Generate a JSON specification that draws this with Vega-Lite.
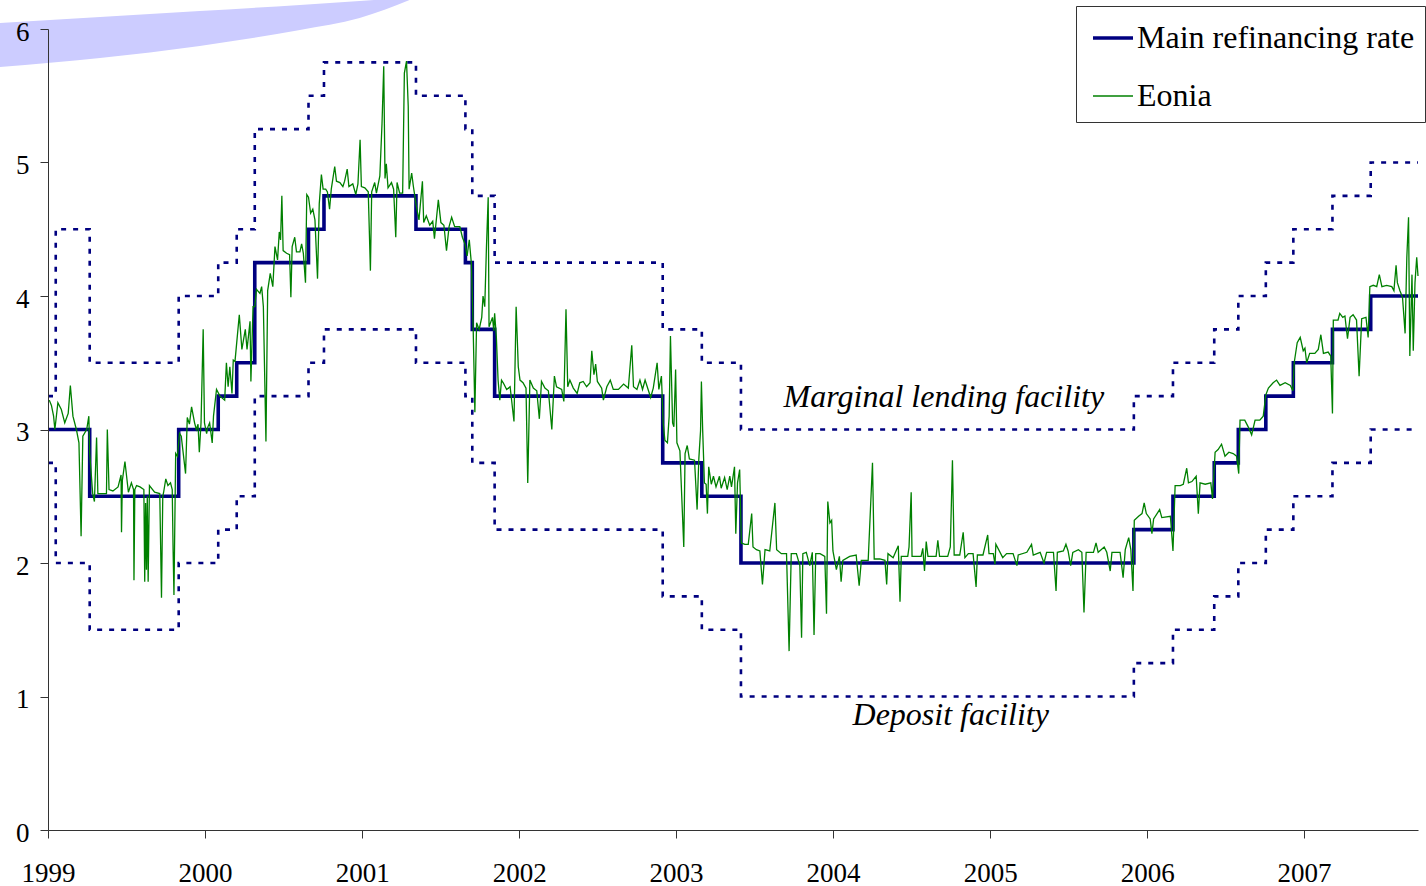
{
  "$schema": "https://vega.github.io/schema/vega-lite/v6.json",
  "width": 1370,
  "height": 801,
  "autosize": {"type": "none"},
  "padding": {"left": 48, "top": 29, "right": 8, "bottom": 56},
  "background": "white",
  "config": {
    "view": {"stroke": null},
    "font": "Liberation Serif",
    "axis": {"grid": false, "domainColor": "#333333", "tickColor": "#333333", "labelFont": "Liberation Serif", "labelFontSize": 27, "labelColor": "black", "tickSize": 8, "title": null},
    "legend": {
      "orient": "none", "legendX": 1028, "legendY": -23,
      "symbolType": "stroke", "symbolSize": 1600, "symbolOffset": 5,
      "labelFont": "Liberation Serif", "labelFontSize": 32, "labelColor": "black", "labelLimit": 500, "labelOffset": 2,
      "strokeColor": "#333333", "fillColor": "white", "padding": 10, "rowPadding": 21
    }
  },
  "datasets": {
    "swoosh": [
      {"date": "1998-09-11", "lo": 5.715, "hi": 6.045},
      {"date": "1999-05-02", "lo": 5.783, "hi": 6.09},
      {"date": "1999-12-20", "lo": 5.873, "hi": 6.135},
      {"date": "2000-08-09", "lo": 5.993, "hi": 6.18},
      {"date": "2000-12-26", "lo": 6.082, "hi": 6.21},
      {"date": "2001-04-21", "lo": 6.217, "hi": 6.235}
    ],
    "policy": [
      {"date": "1999-01-01", "series": "MRO", "rate": 3.0},
      {"date": "1999-04-08", "series": "MRO", "rate": 2.5},
      {"date": "1999-11-01", "series": "MRO", "rate": 3.0},
      {"date": "2000-02-01", "series": "MRO", "rate": 3.25},
      {"date": "2000-03-15", "series": "MRO", "rate": 3.5},
      {"date": "2000-04-26", "series": "MRO", "rate": 4.25},
      {"date": "2000-08-29", "series": "MRO", "rate": 4.5},
      {"date": "2000-10-04", "series": "MRO", "rate": 4.75},
      {"date": "2001-05-06", "series": "MRO", "rate": 4.5},
      {"date": "2001-08-29", "series": "MRO", "rate": 4.25},
      {"date": "2001-09-14", "series": "MRO", "rate": 3.75},
      {"date": "2001-11-05", "series": "MRO", "rate": 3.25},
      {"date": "2002-12-01", "series": "MRO", "rate": 2.75},
      {"date": "2003-03-02", "series": "MRO", "rate": 2.5},
      {"date": "2003-06-01", "series": "MRO", "rate": 2.0},
      {"date": "2005-12-01", "series": "MRO", "rate": 2.25},
      {"date": "2006-03-02", "series": "MRO", "rate": 2.5},
      {"date": "2006-06-06", "series": "MRO", "rate": 2.75},
      {"date": "2006-08-01", "series": "MRO", "rate": 3.0},
      {"date": "2006-10-04", "series": "MRO", "rate": 3.25},
      {"date": "2006-12-07", "series": "MRO", "rate": 3.5},
      {"date": "2007-03-08", "series": "MRO", "rate": 3.75},
      {"date": "2007-06-05", "series": "MRO", "rate": 4.0},
      {"date": "2007-09-23", "series": "MRO", "rate": 4.0},
      {"date": "1999-01-01", "series": "MLF", "rate": 3.25},
      {"date": "1999-01-19", "series": "MLF", "rate": 4.5},
      {"date": "1999-04-08", "series": "MLF", "rate": 3.5},
      {"date": "1999-11-01", "series": "MLF", "rate": 4.0},
      {"date": "2000-02-01", "series": "MLF", "rate": 4.25},
      {"date": "2000-03-15", "series": "MLF", "rate": 4.5},
      {"date": "2000-04-26", "series": "MLF", "rate": 5.25},
      {"date": "2000-08-29", "series": "MLF", "rate": 5.5},
      {"date": "2000-10-04", "series": "MLF", "rate": 5.75},
      {"date": "2001-05-06", "series": "MLF", "rate": 5.5},
      {"date": "2001-08-29", "series": "MLF", "rate": 5.25},
      {"date": "2001-09-14", "series": "MLF", "rate": 4.75},
      {"date": "2001-11-05", "series": "MLF", "rate": 4.25},
      {"date": "2002-12-01", "series": "MLF", "rate": 3.75},
      {"date": "2003-03-02", "series": "MLF", "rate": 3.5},
      {"date": "2003-06-01", "series": "MLF", "rate": 3.0},
      {"date": "2005-12-01", "series": "MLF", "rate": 3.25},
      {"date": "2006-03-02", "series": "MLF", "rate": 3.5},
      {"date": "2006-06-06", "series": "MLF", "rate": 3.75},
      {"date": "2006-08-01", "series": "MLF", "rate": 4.0},
      {"date": "2006-10-04", "series": "MLF", "rate": 4.25},
      {"date": "2006-12-07", "series": "MLF", "rate": 4.5},
      {"date": "2007-03-08", "series": "MLF", "rate": 4.75},
      {"date": "2007-06-05", "series": "MLF", "rate": 5.0},
      {"date": "2007-09-23", "series": "MLF", "rate": 5.0},
      {"date": "1999-01-01", "series": "DF", "rate": 2.75},
      {"date": "1999-01-19", "series": "DF", "rate": 2.0},
      {"date": "1999-04-08", "series": "DF", "rate": 1.5},
      {"date": "1999-11-01", "series": "DF", "rate": 2.0},
      {"date": "2000-02-01", "series": "DF", "rate": 2.25},
      {"date": "2000-03-15", "series": "DF", "rate": 2.5},
      {"date": "2000-04-26", "series": "DF", "rate": 3.25},
      {"date": "2000-08-29", "series": "DF", "rate": 3.5},
      {"date": "2000-10-04", "series": "DF", "rate": 3.75},
      {"date": "2001-05-06", "series": "DF", "rate": 3.5},
      {"date": "2001-08-29", "series": "DF", "rate": 3.25},
      {"date": "2001-09-14", "series": "DF", "rate": 2.75},
      {"date": "2001-11-05", "series": "DF", "rate": 2.25},
      {"date": "2002-12-01", "series": "DF", "rate": 1.75},
      {"date": "2003-03-02", "series": "DF", "rate": 1.5},
      {"date": "2003-06-01", "series": "DF", "rate": 1.0},
      {"date": "2005-12-01", "series": "DF", "rate": 1.25},
      {"date": "2006-03-02", "series": "DF", "rate": 1.5},
      {"date": "2006-06-06", "series": "DF", "rate": 1.75},
      {"date": "2006-08-01", "series": "DF", "rate": 2.0},
      {"date": "2006-10-04", "series": "DF", "rate": 2.25},
      {"date": "2006-12-07", "series": "DF", "rate": 2.5},
      {"date": "2007-03-08", "series": "DF", "rate": 2.75},
      {"date": "2007-06-05", "series": "DF", "rate": 3.0},
      {"date": "2007-09-23", "series": "DF", "rate": 3.0}
    ],
    "eonia": [
      {"date": "1999-01-04", "rate": 3.22}, {"date": "1999-01-09", "rate": 3.18}, {"date": "1999-01-14", "rate": 3.10}, {"date": "1999-01-17", "rate": 3.00},
      {"date": "1999-01-24", "rate": 3.20}, {"date": "1999-02-01", "rate": 3.15}, {"date": "1999-02-09", "rate": 3.05}, {"date": "1999-02-17", "rate": 3.12},
      {"date": "1999-02-22", "rate": 3.33}, {"date": "1999-02-28", "rate": 3.10}, {"date": "1999-03-08", "rate": 3.00}, {"date": "1999-03-14", "rate": 2.90},
      {"date": "1999-03-19", "rate": 2.20}, {"date": "1999-03-23", "rate": 2.95}, {"date": "1999-04-01", "rate": 3.00}, {"date": "1999-04-06", "rate": 3.10},
      {"date": "1999-04-08", "rate": 2.82}, {"date": "1999-04-15", "rate": 2.52}, {"date": "1999-04-19", "rate": 2.46}, {"date": "1999-04-24", "rate": 2.94},
      {"date": "1999-04-27", "rate": 2.52}, {"date": "1999-05-17", "rate": 2.52}, {"date": "1999-05-19", "rate": 3.00}, {"date": "1999-05-23", "rate": 2.55},
      {"date": "1999-06-01", "rate": 2.54}, {"date": "1999-06-13", "rate": 2.57}, {"date": "1999-06-20", "rate": 2.66}, {"date": "1999-06-21", "rate": 2.23},
      {"date": "1999-06-23", "rate": 2.62}, {"date": "1999-06-29", "rate": 2.76}, {"date": "1999-07-07", "rate": 2.53}, {"date": "1999-07-14", "rate": 2.60},
      {"date": "1999-07-19", "rate": 2.55}, {"date": "1999-07-20", "rate": 1.87}, {"date": "1999-07-22", "rate": 2.55}, {"date": "1999-07-26", "rate": 2.58},
      {"date": "1999-08-03", "rate": 2.57}, {"date": "1999-08-12", "rate": 2.55}, {"date": "1999-08-14", "rate": 1.86}, {"date": "1999-08-16", "rate": 2.45},
      {"date": "1999-08-18", "rate": 1.95}, {"date": "1999-08-20", "rate": 2.50}, {"date": "1999-08-22", "rate": 1.86}, {"date": "1999-08-25", "rate": 2.58},
      {"date": "1999-09-06", "rate": 2.53}, {"date": "1999-09-18", "rate": 2.52}, {"date": "1999-09-22", "rate": 1.74}, {"date": "1999-09-25", "rate": 2.50},
      {"date": "1999-09-27", "rate": 2.53}, {"date": "1999-10-02", "rate": 2.63}, {"date": "1999-10-07", "rate": 2.58}, {"date": "1999-10-13", "rate": 2.60},
      {"date": "1999-10-17", "rate": 2.55}, {"date": "1999-10-19", "rate": 2.10}, {"date": "1999-10-21", "rate": 1.76}, {"date": "1999-10-25", "rate": 2.82},
      {"date": "1999-10-29", "rate": 2.80}, {"date": "1999-11-03", "rate": 2.97}, {"date": "1999-11-07", "rate": 2.95}, {"date": "1999-11-17", "rate": 2.67},
      {"date": "1999-11-21", "rate": 3.09}, {"date": "1999-11-26", "rate": 3.04}, {"date": "1999-12-01", "rate": 3.17}, {"date": "1999-12-08", "rate": 3.05},
      {"date": "1999-12-12", "rate": 3.00}, {"date": "1999-12-16", "rate": 3.04}, {"date": "1999-12-19", "rate": 2.83}, {"date": "1999-12-23", "rate": 3.05},
      {"date": "1999-12-28", "rate": 3.75}, {"date": "1999-12-31", "rate": 3.05}, {"date": "2000-01-05", "rate": 2.97}, {"date": "2000-01-08", "rate": 3.02},
      {"date": "2000-01-12", "rate": 3.05}, {"date": "2000-01-18", "rate": 2.90}, {"date": "2000-01-21", "rate": 3.10}, {"date": "2000-01-28", "rate": 3.30},
      {"date": "2000-02-05", "rate": 3.25}, {"date": "2000-02-16", "rate": 3.22}, {"date": "2000-02-20", "rate": 3.50}, {"date": "2000-02-24", "rate": 3.32},
      {"date": "2000-02-28", "rate": 3.47}, {"date": "2000-03-04", "rate": 3.27}, {"date": "2000-03-07", "rate": 3.52}, {"date": "2000-03-11", "rate": 3.51},
      {"date": "2000-03-21", "rate": 3.86}, {"date": "2000-03-27", "rate": 3.60}, {"date": "2000-04-04", "rate": 3.75}, {"date": "2000-04-08", "rate": 3.60},
      {"date": "2000-04-15", "rate": 3.81}, {"date": "2000-04-17", "rate": 3.36}, {"date": "2000-04-22", "rate": 3.92}, {"date": "2000-04-26", "rate": 3.92},
      {"date": "2000-04-30", "rate": 4.05}, {"date": "2000-05-08", "rate": 4.02}, {"date": "2000-05-12", "rate": 4.07}, {"date": "2000-05-16", "rate": 3.92},
      {"date": "2000-05-22", "rate": 2.91}, {"date": "2000-05-26", "rate": 4.04}, {"date": "2000-06-01", "rate": 4.17}, {"date": "2000-06-07", "rate": 4.07},
      {"date": "2000-06-12", "rate": 4.37}, {"date": "2000-06-18", "rate": 4.27}, {"date": "2000-06-22", "rate": 4.48}, {"date": "2000-06-25", "rate": 4.42},
      {"date": "2000-06-28", "rate": 4.75}, {"date": "2000-07-01", "rate": 4.34}, {"date": "2000-07-09", "rate": 4.32}, {"date": "2000-07-16", "rate": 4.31},
      {"date": "2000-07-19", "rate": 3.99}, {"date": "2000-07-22", "rate": 4.37}, {"date": "2000-07-28", "rate": 4.44}, {"date": "2000-08-01", "rate": 4.33},
      {"date": "2000-08-09", "rate": 4.33}, {"date": "2000-08-13", "rate": 4.39}, {"date": "2000-08-17", "rate": 4.32}, {"date": "2000-08-22", "rate": 4.10},
      {"date": "2000-08-25", "rate": 4.76}, {"date": "2000-08-29", "rate": 4.74}, {"date": "2000-09-03", "rate": 4.62}, {"date": "2000-09-08", "rate": 4.65},
      {"date": "2000-09-13", "rate": 4.57}, {"date": "2000-09-19", "rate": 4.13}, {"date": "2000-09-23", "rate": 4.69}, {"date": "2000-09-28", "rate": 4.91},
      {"date": "2000-10-02", "rate": 4.80}, {"date": "2000-10-08", "rate": 4.80}, {"date": "2000-10-12", "rate": 4.78}, {"date": "2000-10-17", "rate": 4.65},
      {"date": "2000-10-21", "rate": 4.80}, {"date": "2000-10-29", "rate": 4.97}, {"date": "2000-11-02", "rate": 4.86}, {"date": "2000-11-10", "rate": 4.85},
      {"date": "2000-11-17", "rate": 4.82}, {"date": "2000-11-21", "rate": 4.86}, {"date": "2000-11-27", "rate": 4.95}, {"date": "2000-12-01", "rate": 4.82},
      {"date": "2000-12-10", "rate": 4.84}, {"date": "2000-12-17", "rate": 4.76}, {"date": "2000-12-22", "rate": 4.84}, {"date": "2000-12-27", "rate": 5.17},
      {"date": "2000-12-30", "rate": 4.82}, {"date": "2001-01-07", "rate": 4.81}, {"date": "2001-01-15", "rate": 4.78}, {"date": "2001-01-20", "rate": 4.19},
      {"date": "2001-01-23", "rate": 4.78}, {"date": "2001-01-30", "rate": 4.85}, {"date": "2001-02-03", "rate": 4.77}, {"date": "2001-02-11", "rate": 4.90},
      {"date": "2001-02-16", "rate": 5.29}, {"date": "2001-02-20", "rate": 5.72}, {"date": "2001-02-23", "rate": 4.88}, {"date": "2001-02-26", "rate": 4.99},
      {"date": "2001-03-02", "rate": 4.81}, {"date": "2001-03-10", "rate": 4.85}, {"date": "2001-03-15", "rate": 4.80}, {"date": "2001-03-20", "rate": 4.44},
      {"date": "2001-03-23", "rate": 4.85}, {"date": "2001-03-29", "rate": 4.77}, {"date": "2001-04-05", "rate": 4.77}, {"date": "2001-04-09", "rate": 5.67},
      {"date": "2001-04-14", "rate": 5.76}, {"date": "2001-04-18", "rate": 5.42}, {"date": "2001-04-20", "rate": 4.80}, {"date": "2001-04-26", "rate": 4.92},
      {"date": "2001-04-30", "rate": 4.82}, {"date": "2001-05-07", "rate": 4.67}, {"date": "2001-05-13", "rate": 4.57}, {"date": "2001-05-21", "rate": 4.86},
      {"date": "2001-05-24", "rate": 4.55}, {"date": "2001-05-30", "rate": 4.60}, {"date": "2001-06-07", "rate": 4.53}, {"date": "2001-06-14", "rate": 4.56},
      {"date": "2001-06-18", "rate": 4.43}, {"date": "2001-06-22", "rate": 4.56}, {"date": "2001-06-27", "rate": 4.72}, {"date": "2001-07-03", "rate": 4.55},
      {"date": "2001-07-10", "rate": 4.53}, {"date": "2001-07-16", "rate": 4.34}, {"date": "2001-07-22", "rate": 4.52}, {"date": "2001-07-28", "rate": 4.59},
      {"date": "2001-08-04", "rate": 4.52}, {"date": "2001-08-16", "rate": 4.52}, {"date": "2001-08-22", "rate": 4.44}, {"date": "2001-08-28", "rate": 4.39},
      {"date": "2001-09-02", "rate": 4.30}, {"date": "2001-09-07", "rate": 4.42}, {"date": "2001-09-12", "rate": 4.24}, {"date": "2001-09-16", "rate": 3.77},
      {"date": "2001-09-20", "rate": 3.13}, {"date": "2001-09-24", "rate": 3.80}, {"date": "2001-09-30", "rate": 3.75}, {"date": "2001-10-06", "rate": 3.84},
      {"date": "2001-10-09", "rate": 4.00}, {"date": "2001-10-13", "rate": 3.92}, {"date": "2001-10-17", "rate": 4.37}, {"date": "2001-10-21", "rate": 4.74},
      {"date": "2001-10-23", "rate": 3.77}, {"date": "2001-10-31", "rate": 3.84}, {"date": "2001-11-03", "rate": 3.74}, {"date": "2001-11-05", "rate": 3.87},
      {"date": "2001-11-09", "rate": 3.69}, {"date": "2001-11-13", "rate": 3.37}, {"date": "2001-11-17", "rate": 3.22}, {"date": "2001-11-21", "rate": 3.37},
      {"date": "2001-11-25", "rate": 3.35}, {"date": "2001-12-03", "rate": 3.30}, {"date": "2001-12-11", "rate": 3.32}, {"date": "2001-12-20", "rate": 3.06},
      {"date": "2001-12-25", "rate": 3.92}, {"date": "2001-12-30", "rate": 3.47}, {"date": "2002-01-03", "rate": 3.37}, {"date": "2002-01-10", "rate": 3.35},
      {"date": "2002-01-17", "rate": 3.31}, {"date": "2002-01-21", "rate": 2.60}, {"date": "2002-01-26", "rate": 3.37}, {"date": "2002-02-03", "rate": 3.31},
      {"date": "2002-02-11", "rate": 3.29}, {"date": "2002-02-17", "rate": 3.08}, {"date": "2002-02-22", "rate": 3.36}, {"date": "2002-03-02", "rate": 3.31},
      {"date": "2002-03-10", "rate": 3.29}, {"date": "2002-03-18", "rate": 3.00}, {"date": "2002-03-24", "rate": 3.40}, {"date": "2002-03-29", "rate": 3.32},
      {"date": "2002-04-10", "rate": 3.30}, {"date": "2002-04-15", "rate": 3.21}, {"date": "2002-04-20", "rate": 3.90}, {"date": "2002-04-24", "rate": 3.32},
      {"date": "2002-04-29", "rate": 3.37}, {"date": "2002-05-07", "rate": 3.31}, {"date": "2002-05-16", "rate": 3.27}, {"date": "2002-05-22", "rate": 3.35},
      {"date": "2002-05-30", "rate": 3.36}, {"date": "2002-06-07", "rate": 3.32}, {"date": "2002-06-15", "rate": 3.35}, {"date": "2002-06-19", "rate": 3.59},
      {"date": "2002-06-24", "rate": 3.41}, {"date": "2002-06-28", "rate": 3.49}, {"date": "2002-07-02", "rate": 3.36}, {"date": "2002-07-12", "rate": 3.31},
      {"date": "2002-07-16", "rate": 3.22}, {"date": "2002-07-24", "rate": 3.32}, {"date": "2002-08-01", "rate": 3.37}, {"date": "2002-08-08", "rate": 3.30},
      {"date": "2002-08-20", "rate": 3.30}, {"date": "2002-09-01", "rate": 3.34}, {"date": "2002-09-12", "rate": 3.31}, {"date": "2002-09-20", "rate": 3.63},
      {"date": "2002-09-24", "rate": 3.32}, {"date": "2002-10-02", "rate": 3.30}, {"date": "2002-10-09", "rate": 3.37}, {"date": "2002-10-15", "rate": 3.30},
      {"date": "2002-10-21", "rate": 3.37}, {"date": "2002-10-28", "rate": 3.30}, {"date": "2002-11-03", "rate": 3.24}, {"date": "2002-11-09", "rate": 3.31},
      {"date": "2002-11-18", "rate": 3.50}, {"date": "2002-11-22", "rate": 3.30}, {"date": "2002-11-28", "rate": 3.40}, {"date": "2002-12-02", "rate": 3.05},
      {"date": "2002-12-06", "rate": 2.92}, {"date": "2002-12-12", "rate": 2.90}, {"date": "2002-12-16", "rate": 3.10}, {"date": "2002-12-19", "rate": 3.70},
      {"date": "2002-12-24", "rate": 3.05}, {"date": "2002-12-27", "rate": 3.02}, {"date": "2002-12-31", "rate": 3.45}, {"date": "2003-01-03", "rate": 2.90},
      {"date": "2003-01-10", "rate": 2.84}, {"date": "2003-01-19", "rate": 2.12}, {"date": "2003-01-22", "rate": 2.82}, {"date": "2003-01-27", "rate": 2.88},
      {"date": "2003-02-01", "rate": 2.78}, {"date": "2003-02-13", "rate": 2.77}, {"date": "2003-02-19", "rate": 2.40}, {"date": "2003-02-23", "rate": 2.78},
      {"date": "2003-02-27", "rate": 2.99}, {"date": "2003-03-01", "rate": 3.36}, {"date": "2003-03-04", "rate": 2.99}, {"date": "2003-03-08", "rate": 2.60},
      {"date": "2003-03-12", "rate": 2.59}, {"date": "2003-03-15", "rate": 2.37}, {"date": "2003-03-18", "rate": 2.72}, {"date": "2003-03-24", "rate": 2.59},
      {"date": "2003-03-29", "rate": 2.65}, {"date": "2003-04-04", "rate": 2.57}, {"date": "2003-04-12", "rate": 2.65}, {"date": "2003-04-16", "rate": 2.56},
      {"date": "2003-04-24", "rate": 2.64}, {"date": "2003-04-30", "rate": 2.55}, {"date": "2003-05-06", "rate": 2.65}, {"date": "2003-05-10", "rate": 2.57},
      {"date": "2003-05-17", "rate": 2.72}, {"date": "2003-05-20", "rate": 2.22}, {"date": "2003-05-24", "rate": 2.60}, {"date": "2003-05-29", "rate": 2.70},
      {"date": "2003-06-02", "rate": 2.15}, {"date": "2003-06-10", "rate": 2.14}, {"date": "2003-06-18", "rate": 2.14}, {"date": "2003-06-26", "rate": 2.37},
      {"date": "2003-06-29", "rate": 2.12}, {"date": "2003-07-07", "rate": 2.10}, {"date": "2003-07-15", "rate": 2.09}, {"date": "2003-07-21", "rate": 1.84},
      {"date": "2003-07-27", "rate": 2.10}, {"date": "2003-08-07", "rate": 2.09}, {"date": "2003-08-19", "rate": 2.45}, {"date": "2003-08-23", "rate": 2.10},
      {"date": "2003-09-03", "rate": 2.07}, {"date": "2003-09-15", "rate": 2.07}, {"date": "2003-09-21", "rate": 1.34}, {"date": "2003-09-26", "rate": 2.07},
      {"date": "2003-10-08", "rate": 2.07}, {"date": "2003-10-16", "rate": 1.98}, {"date": "2003-10-20", "rate": 1.44}, {"date": "2003-10-23", "rate": 2.07},
      {"date": "2003-10-31", "rate": 2.08}, {"date": "2003-11-08", "rate": 1.98}, {"date": "2003-11-14", "rate": 2.08}, {"date": "2003-11-18", "rate": 1.46},
      {"date": "2003-11-22", "rate": 2.07}, {"date": "2003-12-02", "rate": 2.07}, {"date": "2003-12-13", "rate": 2.05}, {"date": "2003-12-17", "rate": 1.62},
      {"date": "2003-12-20", "rate": 2.46}, {"date": "2003-12-25", "rate": 2.30}, {"date": "2003-12-29", "rate": 2.32}, {"date": "2004-01-01", "rate": 2.09},
      {"date": "2004-01-09", "rate": 1.95}, {"date": "2004-01-16", "rate": 2.05}, {"date": "2004-01-20", "rate": 1.86}, {"date": "2004-01-24", "rate": 2.02},
      {"date": "2004-02-09", "rate": 2.05}, {"date": "2004-02-24", "rate": 2.06}, {"date": "2004-03-02", "rate": 1.83}, {"date": "2004-03-07", "rate": 2.02},
      {"date": "2004-03-23", "rate": 2.02}, {"date": "2004-04-02", "rate": 2.75}, {"date": "2004-04-06", "rate": 2.03}, {"date": "2004-04-19", "rate": 2.03},
      {"date": "2004-05-01", "rate": 2.02}, {"date": "2004-05-05", "rate": 1.84}, {"date": "2004-05-08", "rate": 2.07}, {"date": "2004-05-20", "rate": 2.04},
      {"date": "2004-05-28", "rate": 2.10}, {"date": "2004-06-01", "rate": 2.13}, {"date": "2004-06-05", "rate": 1.71}, {"date": "2004-06-08", "rate": 2.05},
      {"date": "2004-06-23", "rate": 2.05}, {"date": "2004-06-26", "rate": 2.12}, {"date": "2004-07-01", "rate": 2.53}, {"date": "2004-07-03", "rate": 2.05},
      {"date": "2004-07-24", "rate": 2.05}, {"date": "2004-07-28", "rate": 2.11}, {"date": "2004-08-01", "rate": 1.94}, {"date": "2004-08-05", "rate": 2.16},
      {"date": "2004-08-09", "rate": 2.05}, {"date": "2004-08-28", "rate": 2.05}, {"date": "2004-09-01", "rate": 2.17}, {"date": "2004-09-05", "rate": 2.05},
      {"date": "2004-09-24", "rate": 2.05}, {"date": "2004-09-30", "rate": 2.12}, {"date": "2004-10-05", "rate": 2.77}, {"date": "2004-10-09", "rate": 2.06},
      {"date": "2004-10-22", "rate": 2.06}, {"date": "2004-10-30", "rate": 2.23}, {"date": "2004-11-03", "rate": 2.04}, {"date": "2004-11-11", "rate": 2.07},
      {"date": "2004-11-22", "rate": 2.07}, {"date": "2004-11-29", "rate": 1.82}, {"date": "2004-12-02", "rate": 2.06}, {"date": "2004-12-15", "rate": 2.06},
      {"date": "2004-12-26", "rate": 2.21}, {"date": "2004-12-29", "rate": 2.07}, {"date": "2005-01-08", "rate": 2.07}, {"date": "2005-01-12", "rate": 1.99},
      {"date": "2005-01-14", "rate": 2.14}, {"date": "2005-01-30", "rate": 2.04}, {"date": "2005-02-08", "rate": 2.07}, {"date": "2005-02-23", "rate": 2.07},
      {"date": "2005-03-04", "rate": 1.98}, {"date": "2005-03-07", "rate": 2.06}, {"date": "2005-03-27", "rate": 2.08}, {"date": "2005-04-07", "rate": 2.14},
      {"date": "2005-04-11", "rate": 2.06}, {"date": "2005-04-27", "rate": 2.08}, {"date": "2005-05-06", "rate": 2.00}, {"date": "2005-05-12", "rate": 2.08},
      {"date": "2005-05-28", "rate": 2.08}, {"date": "2005-06-03", "rate": 1.79}, {"date": "2005-06-06", "rate": 2.08}, {"date": "2005-06-20", "rate": 2.09},
      {"date": "2005-06-26", "rate": 2.14}, {"date": "2005-07-01", "rate": 2.09}, {"date": "2005-07-07", "rate": 1.98}, {"date": "2005-07-12", "rate": 2.08},
      {"date": "2005-07-25", "rate": 2.10}, {"date": "2005-08-02", "rate": 2.08}, {"date": "2005-08-07", "rate": 1.63}, {"date": "2005-08-12", "rate": 2.08},
      {"date": "2005-08-29", "rate": 2.08}, {"date": "2005-09-04", "rate": 2.15}, {"date": "2005-09-09", "rate": 2.08}, {"date": "2005-09-23", "rate": 2.12},
      {"date": "2005-09-29", "rate": 2.08}, {"date": "2005-10-07", "rate": 1.94}, {"date": "2005-10-11", "rate": 2.08}, {"date": "2005-10-30", "rate": 2.08},
      {"date": "2005-11-06", "rate": 1.89}, {"date": "2005-11-11", "rate": 2.10}, {"date": "2005-11-19", "rate": 2.19}, {"date": "2005-11-24", "rate": 2.10},
      {"date": "2005-11-29", "rate": 1.79}, {"date": "2005-12-02", "rate": 2.32}, {"date": "2005-12-12", "rate": 2.35}, {"date": "2005-12-20", "rate": 2.37},
      {"date": "2005-12-25", "rate": 2.45}, {"date": "2005-12-30", "rate": 2.37}, {"date": "2006-01-08", "rate": 2.33}, {"date": "2006-01-12", "rate": 2.22},
      {"date": "2006-01-16", "rate": 2.33}, {"date": "2006-01-30", "rate": 2.40}, {"date": "2006-02-04", "rate": 2.34}, {"date": "2006-02-24", "rate": 2.35},
      {"date": "2006-03-02", "rate": 2.09}, {"date": "2006-03-07", "rate": 2.58}, {"date": "2006-03-19", "rate": 2.58}, {"date": "2006-03-26", "rate": 2.59},
      {"date": "2006-04-03", "rate": 2.71}, {"date": "2006-04-07", "rate": 2.60}, {"date": "2006-04-15", "rate": 2.61}, {"date": "2006-04-25", "rate": 2.65},
      {"date": "2006-04-30", "rate": 2.37}, {"date": "2006-05-04", "rate": 2.60}, {"date": "2006-05-16", "rate": 2.59}, {"date": "2006-05-29", "rate": 2.60},
      {"date": "2006-06-02", "rate": 2.48}, {"date": "2006-06-08", "rate": 2.83}, {"date": "2006-06-15", "rate": 2.85}, {"date": "2006-06-23", "rate": 2.89},
      {"date": "2006-07-01", "rate": 2.80}, {"date": "2006-07-10", "rate": 2.83}, {"date": "2006-07-20", "rate": 2.82}, {"date": "2006-07-28", "rate": 2.80},
      {"date": "2006-08-02", "rate": 2.67}, {"date": "2006-08-05", "rate": 3.07}, {"date": "2006-08-16", "rate": 3.07}, {"date": "2006-08-24", "rate": 3.02},
      {"date": "2006-09-01", "rate": 2.96}, {"date": "2006-09-09", "rate": 3.07}, {"date": "2006-09-20", "rate": 3.07}, {"date": "2006-09-28", "rate": 3.10},
      {"date": "2006-10-04", "rate": 3.26}, {"date": "2006-10-10", "rate": 3.31}, {"date": "2006-10-21", "rate": 3.35}, {"date": "2006-10-29", "rate": 3.37},
      {"date": "2006-11-06", "rate": 3.33}, {"date": "2006-11-18", "rate": 3.35}, {"date": "2006-11-30", "rate": 3.33}, {"date": "2006-12-06", "rate": 3.29},
      {"date": "2006-12-09", "rate": 3.50}, {"date": "2006-12-16", "rate": 3.65}, {"date": "2006-12-23", "rate": 3.69}, {"date": "2006-12-30", "rate": 3.59},
      {"date": "2007-01-03", "rate": 3.61}, {"date": "2007-01-07", "rate": 3.50}, {"date": "2007-01-14", "rate": 3.57}, {"date": "2007-01-26", "rate": 3.57},
      {"date": "2007-02-03", "rate": 3.60}, {"date": "2007-02-09", "rate": 3.71}, {"date": "2007-02-15", "rate": 3.57}, {"date": "2007-02-26", "rate": 3.58},
      {"date": "2007-03-04", "rate": 3.55}, {"date": "2007-03-08", "rate": 3.12}, {"date": "2007-03-10", "rate": 3.82}, {"date": "2007-03-21", "rate": 3.82},
      {"date": "2007-03-25", "rate": 3.87}, {"date": "2007-04-01", "rate": 3.84}, {"date": "2007-04-06", "rate": 3.85}, {"date": "2007-04-12", "rate": 3.68},
      {"date": "2007-04-18", "rate": 3.84}, {"date": "2007-04-25", "rate": 3.86}, {"date": "2007-05-03", "rate": 3.82}, {"date": "2007-05-09", "rate": 3.40},
      {"date": "2007-05-15", "rate": 3.83}, {"date": "2007-05-25", "rate": 3.84}, {"date": "2007-05-30", "rate": 3.69}, {"date": "2007-06-03", "rate": 4.07},
      {"date": "2007-06-11", "rate": 4.08}, {"date": "2007-06-19", "rate": 4.07}, {"date": "2007-06-25", "rate": 4.16}, {"date": "2007-07-01", "rate": 4.07},
      {"date": "2007-07-12", "rate": 4.08}, {"date": "2007-07-24", "rate": 4.07}, {"date": "2007-07-29", "rate": 4.04}, {"date": "2007-08-03", "rate": 4.23},
      {"date": "2007-08-06", "rate": 4.10}, {"date": "2007-08-12", "rate": 4.04}, {"date": "2007-08-18", "rate": 3.99}, {"date": "2007-08-24", "rate": 3.72},
      {"date": "2007-08-28", "rate": 4.29}, {"date": "2007-09-01", "rate": 4.59}, {"date": "2007-09-04", "rate": 3.55}, {"date": "2007-09-09", "rate": 4.16},
      {"date": "2007-09-12", "rate": 3.59}, {"date": "2007-09-16", "rate": 4.10}, {"date": "2007-09-20", "rate": 4.29}, {"date": "2007-09-23", "rate": 4.15}
    ],
    "notes": [
      {"date": "2004-09-15", "rate": 3.17, "label": "Marginal lending facility"},
      {"date": "2004-10-01", "rate": 0.79, "label": "Deposit facility"}
    ]
  },
  "layer": [
    {
      "data": {"name": "swoosh"},
      "mark": {"type": "area", "color": "#ccccff", "opacity": 1, "interpolate": "monotone", "clip": false},
      "encoding": {
        "x": {"field": "date", "type": "temporal", "scale": {"domain": [{"year": 1999, "month": 1, "date": 1}, {"year": 2007, "month": 9, "date": 23}]}},
        "y": {"field": "lo", "type": "quantitative", "scale": {"domain": [0, 6]}},
        "y2": {"field": "hi"}
      }
    },
    {
      "data": {"name": "policy"},
      "transform": [{"filter": "datum.series !== 'MRO'"}],
      "mark": {"type": "line", "interpolate": "step-after", "color": "#000080", "strokeWidth": 2.6, "strokeDash": [5, 7], "strokeCap": "butt"},
      "encoding": {
        "x": {"field": "date", "type": "temporal"},
        "y": {"field": "rate", "type": "quantitative"},
        "detail": {"field": "series", "type": "nominal"}
      }
    },
    {
      "data": {"name": "policy"},
      "transform": [{"filter": "datum.series === 'MRO'"}],
      "mark": {"type": "line", "interpolate": "step-after", "strokeJoin": "miter"},
      "encoding": {
        "x": {"field": "date", "type": "temporal"},
        "y": {"field": "rate", "type": "quantitative"},
        "color": {"datum": "Main refinancing rate", "type": "nominal", "scale": {"domain": ["Main refinancing rate", "Eonia"], "range": ["#000080", "#008000"]}, "legend": {"title": null}},
        "strokeWidth": {"datum": "Main refinancing rate", "type": "nominal", "scale": {"domain": ["Main refinancing rate", "Eonia"], "range": [3.6, 1.3]}, "legend": {"title": null}}
      }
    },
    {
      "data": {"name": "eonia"},
      "mark": {"type": "line", "interpolate": "linear"},
      "encoding": {
        "x": {"field": "date", "type": "temporal"},
        "y": {"field": "rate", "type": "quantitative"},
        "color": {"datum": "Eonia", "type": "nominal", "legend": {"title": null}},
        "strokeWidth": {"datum": "Eonia", "type": "nominal", "legend": {"title": null}}
      }
    },
    {
      "data": {"name": "notes"},
      "mark": {"type": "text", "font": "Liberation Serif", "fontStyle": "italic", "fontSize": 32, "align": "center", "baseline": "alphabetic", "color": "black"},
      "encoding": {
        "x": {"field": "date", "type": "temporal"},
        "y": {"field": "rate", "type": "quantitative"},
        "text": {"field": "label", "type": "nominal"}
      }
    }
  ],
  "encoding": {
    "x": {"field": "date", "type": "temporal", "axis": {"format": "%Y", "tickCount": {"interval": "year", "step": 1}, "labelPadding": 22, "labelFlush": false, "labelOverlap": false}},
    "y": {"field": "rate", "type": "quantitative", "axis": {"values": [0, 1, 2, 3, 4, 5, 6], "labelPadding": 11, "labelOffset": 3, "zindex": 1}}
  }
}
